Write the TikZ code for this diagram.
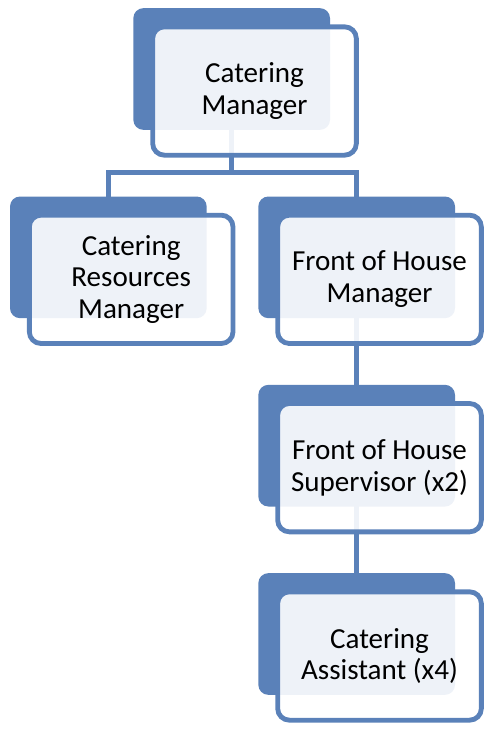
\documentclass[tikz,border=0pt]{standalone}
\usepackage{fontspec}
\setmainfont{Carlito}
\usepackage{xcolor}
\usepackage{tikz}
\usetikzlibrary{positioning, backgrounds}
\definecolor{orgblue}{HTML}{5A81B9}

\begin{document}
\begin{tikzpicture}
		\tikzset{
			node distance=2cm and 1.55cm,
			back/.style={rectangle, fill=orgblue, rounded corners=0.3cm,
			minimum width=5.9cm, minimum height=3.65cm, inner sep=0pt, outer sep=0pt},
			front/.style={rectangle, draw=orgblue, line width=0.145cm, fill=white, fill opacity=0.9,
			text opacity=1, align=center, font=\fontsize{24.8}{27}\selectfont,
			minimum width=6.11cm, minimum height=3.85cm, rounded corners=0.35cm, inner sep=0pt, outer sep=0pt},
			conn/.style={draw=orgblue, line width=0.14cm}
		}
		\useasboundingbox (0,0) rectangle (15,-22.11);
		\node[back] (cmbk) at (6.95,-2.07) {};
		\node[front, below right=0.56cm and 0.58cm of cmbk.north west] (cm) {Catering\\Manager};
		\node[back, below=of cmbk, xshift=-3.7cm] (crmbk) {};
		\node[front, below right=0.56cm and 0.58cm of crmbk.north west] (crm) {Catering\\Resources\\Manager};
		\node[back, right=of crmbk] (fohmbk) {};
		\node[front, below right=0.56cm and 0.58cm of fohmbk.north west] (fohm) {Front of House\\Manager};
		\node[back, below=of fohmbk] (fohsbk) {};
		\node[front, below right=0.56cm and 0.58cm of fohsbk.north west] (fohs) {Front of House\\Supervisor (x2)};
		\node[back, below=of fohsbk] (cabk) {};
		\node[front, below right=0.56cm and 0.58cm of cabk.north west] (ca) {Catering\\Assistant (x4)};
		\coordinate[below=1.28cm of cmbk.south] (split);

		\begin{scope}[on background layer]
		\draw[conn] (cmbk.center) -- (split) -| (crmbk.center);
		\draw[conn] (split) -| (fohmbk.center);
		\draw[conn] (fohmbk.center) -- (fohsbk.center);
		\draw[conn] (fohsbk.center) -- (cabk.center);
		\end{scope}
	\end{tikzpicture}
\end{document}
